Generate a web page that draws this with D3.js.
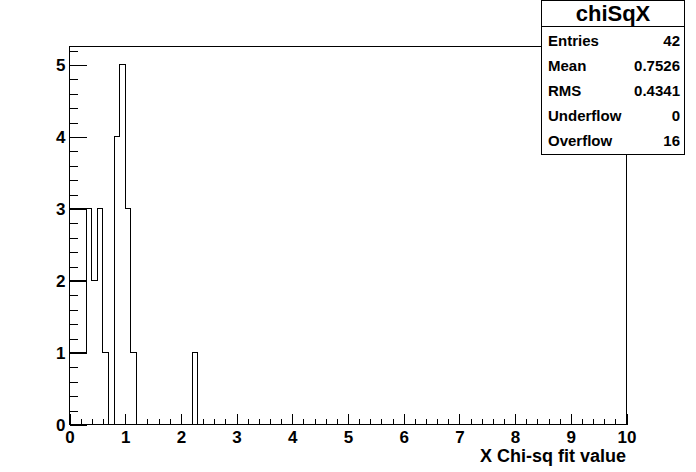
<!DOCTYPE html>
<html>
<head>
<meta charset="utf-8">
<script src="https://cdn.jsdelivr.net/npm/d3@7"></script>
<style>
  body { margin: 0; background: #fff; }
  svg { display: block; font-family: "Liberation Sans", Arial, sans-serif; font-weight: bold; }
</style>
</head>
<body>
<div id="graph"></div>
<script>
// histogram chiSqX: 100 bins of width 0.1 from 0 to 10
const binLow = 0
const binWidth = 0.1
const counts = [
  1, 1, 1, 3, 2, 3, 1, 0, 4, 5,
  3, 1, 0, 0, 0, 0, 0, 0, 0, 0,
  0, 0, 1, 0, 0, 0, 0, 0, 0, 0,
  0, 0, 0, 0, 0, 0, 0, 0, 0, 0,
  0, 0, 0, 0, 0, 0, 0, 0, 0, 0,
  0, 0, 0, 0, 0, 0, 0, 0, 0, 0,
  0, 0, 0, 0, 0, 0, 0, 0, 0, 0,
  0, 0, 0, 0, 0, 0, 0, 0, 0, 0,
  0, 0, 0, 0, 0, 0, 0, 0, 0, 0,
  0, 0, 0, 0, 0, 0, 0, 0, 0, 0
]
// extra outline levels drawn over the first three bins in the original
const extraLevels = [2, 3]
const extraSpan = [0, 0.3]

const xTicks = [0, 1, 2, 3, 4, 5, 6, 7, 8, 9, 10]
const yTicks = [0, 1, 2, 3, 4, 5]

const statsTitle = "chiSqX"
const statsNames = ["Entries", "Mean", "RMS", "Underflow", "Overflow"]
const statsValues = ["42", "0.7526", "0.4341", "0", "16"]

const xTitle = "X Chi-sq fit value"

const width = 696
const height = 472
const marginTop = 46
const marginRight = 70
const marginBottom = 48
const marginLeft = 69

const xScale = d3.scaleLinear()
                 .domain([0, 10])
                 .range([marginLeft, width - marginRight])

const yScale = d3.scaleLinear()
                 .domain([0, d3.max(counts) * 1.05])
                 .range([height - marginBottom, marginTop])

const svg = d3.create("svg")
              .attr("width", width)
              .attr("height", height)
              .attr("viewBox", `0 0 ${width} ${height}`)

svg.append("rect")
   .attr("width", width)
   .attr("height", height)
   .attr("fill", "white")

const minorX = d3.range(0, 10.001, 0.2).filter(v => Math.abs(v - Math.round(v)) > 1e-6)
const minorY = d3.range(0, yScale.domain()[1], 0.2).filter(v => Math.abs(v - Math.round(v)) > 1e-6)

// x axis (ticks drawn inward)
const xAxisG = svg.append("g")
   .attr("transform", `translate(0.5, ${height - marginBottom + 0.5})`)
xAxisG.append("g")
   .call(d3.axisBottom(xScale).tickValues(xTicks).tickSize(-11).tickPadding(6).tickFormat(d3.format("d")))
xAxisG.append("g")
   .call(d3.axisBottom(xScale).tickValues(minorX).tickSize(-5.5).tickFormat(""))

// y axis
const yAxisG = svg.append("g")
   .attr("transform", `translate(${marginLeft + 0.5}, 1)`)
yAxisG.append("g")
   .call(d3.axisLeft(yScale).tickValues(yTicks).tickSize(-17).tickPadding(4).tickFormat(d3.format("d")))
yAxisG.append("g")
   .call(d3.axisLeft(yScale).tickValues(minorY).tickSize(-8.5).tickFormat(""))

svg.selectAll(".domain").remove()
svg.selectAll(".tick line").attr("stroke", "black").attr("shape-rendering", "crispEdges")
svg.selectAll(".tick text")
   .attr("fill", "black")
   .attr("font-size", 17)
   .attr("font-family", "Liberation Sans, Arial, sans-serif")
   .attr("font-weight", "bold")

// frame
svg.append("rect")
   .attr("x", marginLeft + 0.5)
   .attr("y", marginTop + 0.5)
   .attr("width", width - marginRight - marginLeft)
   .attr("height", height - marginBottom - marginTop)
   .attr("fill", "none")
   .attr("stroke", "black")
   .attr("shape-rendering", "crispEdges")

// histogram outline
const steps = counts.map((c, i) => ({ x0: binLow + i * binWidth, x1: binLow + (i + 1) * binWidth, c }))
const pts = [[xScale(binLow), yScale(0)]]
steps.forEach(s => {
   pts.push([xScale(s.x0), yScale(s.c)])
   pts.push([xScale(s.x1), yScale(s.c)])
})
pts.push([xScale(binLow + counts.length * binWidth), yScale(0)])

const snap = v => Math.round(v) + 0.5
svg.append("path")
   .attr("d", d3.line().x(d => snap(d[0])).y(d => snap(d[1]))(pts))
   .attr("fill", "none")
   .attr("stroke", "black")
   .attr("shape-rendering", "crispEdges")

svg.selectAll(".extra")
   .data(extraLevels)
   .enter()
   .append("line")
   .attr("x1", snap(xScale(extraSpan[0])))
   .attr("x2", snap(xScale(extraSpan[1])))
   .attr("y1", d => snap(yScale(d)))
   .attr("y2", d => snap(yScale(d)))
   .attr("stroke", "black")
   .attr("shape-rendering", "crispEdges")

// axis title
svg.append("text")
   .attr("x", width - marginRight)
   .attr("y", 462)
   .attr("text-anchor", "end")
   .attr("font-size", 18)
   .text(xTitle)

// stats box
const box = { x: 541.5, y: 0.5, w: 143, h: 154, head: 26 }
const stats = svg.append("g")
stats.append("rect")
   .attr("x", box.x)
   .attr("y", box.y)
   .attr("width", box.w)
   .attr("height", box.h)
   .attr("fill", "white")
   .attr("stroke", "black")
   .attr("shape-rendering", "crispEdges")
stats.append("line")
   .attr("x1", box.x)
   .attr("x2", box.x + box.w)
   .attr("y1", box.y + box.head)
   .attr("y2", box.y + box.head)
   .attr("stroke", "black")
   .attr("shape-rendering", "crispEdges")
stats.append("text")
   .attr("x", box.x + box.w / 2)
   .attr("y", 21)
   .attr("text-anchor", "middle")
   .attr("font-size", 22)
   .text(statsTitle)

const rowY = d3.scalePoint()
               .domain(statsNames)
               .range([41, 141])

stats.selectAll(".sname")
   .data(statsNames)
   .enter()
   .append("text")
   .attr("x", 548)
   .attr("y", d => rowY(d))
   .attr("dy", "0.35em")
   .attr("font-size", 15)
   .text(d => d)

stats.selectAll(".sval")
   .data(statsValues)
   .enter()
   .append("text")
   .attr("x", 680)
   .attr("y", (d, i) => rowY(statsNames[i]))
   .attr("dy", "0.35em")
   .attr("text-anchor", "end")
   .attr("font-size", 15)
   .text(d => d)

d3.select("#graph").append(() => svg.node())
</script>
</body>
</html>
